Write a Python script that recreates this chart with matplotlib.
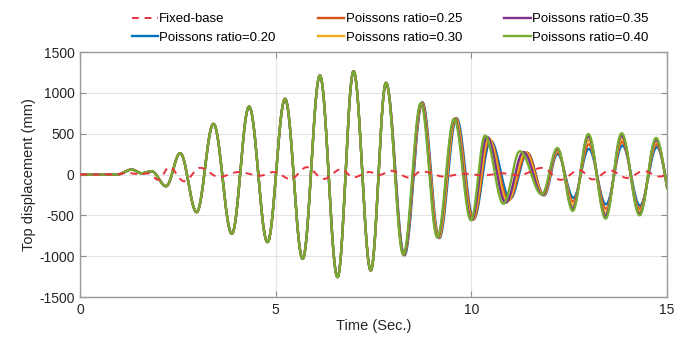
"""Top displacement time history: fixed-base vs. SSI with varying Poisson's ratio."""
import numpy as np
import matplotlib
matplotlib.use('Agg')
import matplotlib.pyplot as plt

plt.rcParams['font.family'] = ['Liberation Sans', 'DejaVu Sans']
plt.rcParams['axes.unicode_minus'] = False

# ── Data: peaks / troughs (time in s, displacement in mm) ──
fixed_t = [0, 0.9, 1.2, 1.5, 1.75, 2.0, 2.28, 2.66, 3.07, 3.55, 4.05, 4.6, 4.95, 5.38, 5.8, 6.22,
           6.68, 6.98, 7.4, 7.65, 7.95, 8.43, 8.72, 9.3, 9.8, 10.3, 10.8, 11.2, 11.82, 12.28, 12.76,
           13.1, 13.54, 13.98, 14.4, 14.82, 15.2]
fixed_v = [0, 0, 20, 5, 15, -65, 90, -82, 82, -30, 30, -15, 30, -55, 90, -55,
           65, -35, 30, -5, 45, -40, 40, -25, 10, -10, 15, -10, 82, -65, 55,
           -60, 50, -42, 42, -25, 30]

# all Poisson-ratio curves overlap up to ~8 s
common_t = [0, 0.95, 1.32, 1.58, 1.83, 2.2, 2.56, 2.98, 3.41, 3.88, 4.32, 4.79, 5.24, 5.69,
            6.13, 6.58, 6.99, 7.43, 7.82]
common_v = [0, 0, 60, 15, 40, -143, 261, -461, 620, -726, 832, -828, 926, -1032,
            1212, -1257, 1265, -1175, 1122]

nu020_t = [8.29, 8.75, 9.18, 9.62, 10.06, 10.49, 10.99, 11.43, 11.86, 12.20, 12.61, 13.00, 13.44, 13.86, 14.31, 14.74, 15.17]
nu020_v = [-990, 885, -780, 690, -545, 415, -297, 264, -256, 252, -285, 314, -365, 355, -380, 335, -350]
nu025_t = [8.28, 8.74, 9.17, 9.60, 10.05, 10.46, 10.95, 11.42, 11.85, 12.20, 12.60, 13.00, 13.44, 13.85, 14.30, 14.73, 15.17]
nu025_v = [-985, 880, -775, 688, -550, 430, -315, 268, -252, 275, -330, 370, -420, 400, -420, 370, -380]
nu030_t = [8.27, 8.73, 9.16, 9.59, 10.03, 10.44, 10.92, 11.38, 11.84, 12.20, 12.60, 12.99, 13.43, 13.85, 14.30, 14.73, 15.17]
nu030_v = [-982, 877, -772, 685, -555, 445, -330, 272, -250, 295, -375, 420, -465, 440, -450, 400, -400]
nu035_t = [8.27, 8.72, 9.14, 9.57, 10.01, 10.40, 10.88, 11.33, 11.82, 12.20, 12.59, 12.99, 13.43, 13.84, 14.30, 14.72, 15.17]
nu035_v = [-980, 875, -770, 683, -558, 460, -345, 276, -248, 312, -415, 465, -505, 475, -480, 425, -420]
nu040_t = [8.26, 8.71, 9.13, 9.56, 9.99, 10.35, 10.82, 11.24, 11.80, 12.20, 12.59, 12.99, 13.43, 13.84, 14.30, 14.72, 15.17]
nu040_v = [-979, 873, -767, 681, -560, 476, -358, 285, -244, 325, -445, 495, -540, 505, -500, 448, -450]

labels = ['Poissons ratio=0.20', 'Poissons ratio=0.25', 'Poissons ratio=0.30',
          'Poissons ratio=0.35', 'Poissons ratio=0.40']
colors = ['#0072BD', '#D95319', '#EDB120', '#7E2F8E', '#77AC30']
series = [(nu020_t, nu020_v), (nu025_t, nu025_v), (nu030_t, nu030_v),
          (nu035_t, nu035_v), (nu040_t, nu040_v)]


def through_extrema(tk, vk, n=40):
    """Smooth half-cosine path passing through the read extrema."""
    ts, vs = [], []
    for i in range(len(tk) - 1):
        s = np.linspace(0, 1, n, endpoint=False)
        ts.append(tk[i] + (tk[i + 1] - tk[i]) * s)
        vs.append(vk[i] + (vk[i + 1] - vk[i]) * (1 - np.cos(np.pi * s)) / 2)
    ts.append([tk[-1]]); vs.append([vk[-1]])
    return np.concatenate(ts), np.concatenate(vs)


# ── Plot ──────────────────────────────────────────────────────────────────────
fig = plt.figure(figsize=(6.88, 3.41), dpi=100)
ax = fig.add_axes([0.1163, 0.129, 0.8532, 0.7185])

handles = []
for (st, sv), lab, c in zip(series, labels, colors):
    t, v = through_extrema(common_t + st, common_v + sv)
    h, = ax.plot(t, v, color=c, lw=1.7, label=lab)
    handles.append(h)

t, v = through_extrema(fixed_t, fixed_v)
hf, = ax.plot(t, v, color='#e8323c', lw=1.4, ls=(0, (3.5, 3)), label='Fixed-base', zorder=5)

ax.set_xlim(0, 15)
ax.set_ylim(-1500, 1500)
ax.set_xticks([0, 5, 10, 15])
ax.set_yticks(np.arange(-1500, 1501, 500))
ax.grid(True, color='#e4e4e4', lw=0.8)
ax.set_axisbelow(True)
ax.tick_params(direction='in', top=True, right=True, length=4, color='#8c8c8c',
               labelsize=10, labelcolor='#262626', pad=4)
for sp in ax.spines.values():
    sp.set_color('#9a9a9a')
    sp.set_linewidth(1.0)

ax.set_xlabel('Time (Sec.)', fontsize=10.5, color='#262626', labelpad=2)
ax.set_ylabel('Top displacement (mm)', fontsize=10.5, color='#262626', labelpad=2)

fig.legend([hf] + handles, ['Fixed-base'] + labels, ncol=3, loc='upper center',
           bbox_to_anchor=(390 / 688, 1 - 5 / 341), frameon=False, fontsize=9.5,
           handlelength=2.0, handletextpad=0.1, columnspacing=3.2, labelspacing=0.5,
           borderaxespad=0.2)

fig.savefig('out.png', dpi=100)
